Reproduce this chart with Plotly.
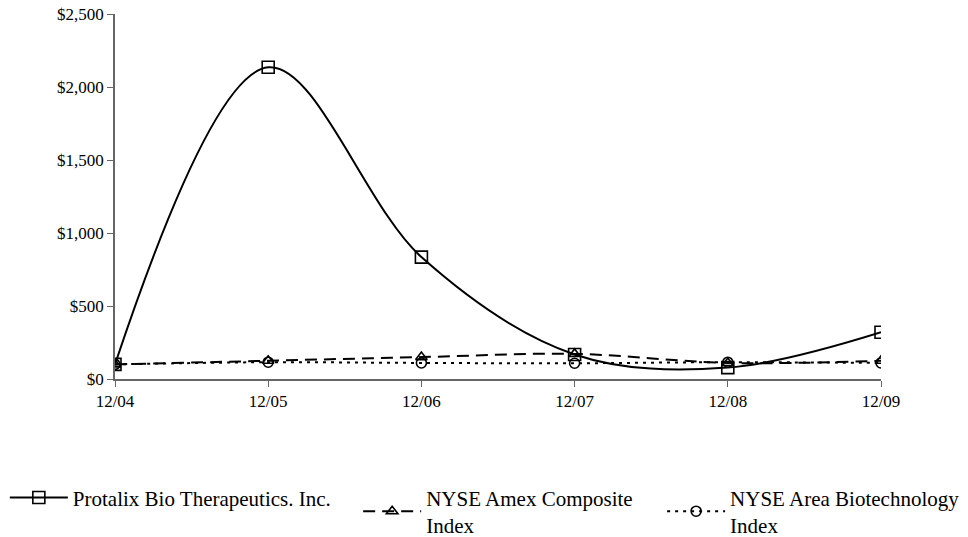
import plotly.graph_objects as go

categories = ["12/04", "12/05", "12/06", "12/07", "12/08", "12/09"]
protalix = [100, 2135, 835, 168, 78, 320]
amex = [100, 125, 150, 172, 110, 125]
biotech = [100, 115, 110, 108, 115, 110]

FONT = "'Liberation Serif', 'Times New Roman', Times, serif"
fig = go.Figure()

fig.add_trace(go.Scatter(
    x=categories, y=protalix, name="Protalix Bio Therapeutics. Inc.",
    mode="lines+markers", line=dict(color="black", width=2, shape="spline", smoothing=1.0),
    marker=dict(symbol="square-open", size=12, color="black", line=dict(width=1.6)),
    legend="legend"))
fig.add_trace(go.Scatter(
    x=categories, y=amex, name="NYSE Amex Composite<br>Index",
    mode="lines+markers", line=dict(color="black", width=2, dash="12px,7px", shape="spline", smoothing=1.0),
    marker=dict(symbol="triangle-up-open", size=10, color="black", line=dict(width=1.6)),
    legend="legend2"))
fig.add_trace(go.Scatter(
    x=categories, y=biotech, name="NYSE Area Biotechnology<br>Index",
    mode="lines+markers", line=dict(color="black", width=2, dash="3px,5px", shape="spline", smoothing=1.0),
    marker=dict(symbol="circle-open", size=10, color="black", line=dict(width=1.6)),
    legend="legend3"))

leg_common = dict(font=dict(family=FONT, size=21, color="black"), bgcolor="rgba(0,0,0,0)",
                  itemwidth=58, yref="container", yanchor="top", y=0.111,
                  xref="container", xanchor="left")

fig.update_layout(
    width=968, height=537,
    margin=dict(l=115, r=87, t=14, b=158, autoexpand=False),
    plot_bgcolor="white", paper_bgcolor="white",
    font=dict(family=FONT, size=17, color="black"),
    showlegend=True,
    legend=dict(**leg_common, x=0.005),
    legend2=dict(**leg_common, x=0.370),
    legend3=dict(**leg_common, x=0.684),
    xaxis=dict(type="category", range=[0, 5], showline=True, linecolor="#666", linewidth=1.5,
               ticks="outside", ticklen=6, tickcolor="#666", showgrid=False, zeroline=False,
               tickangle=0, automargin=False, ticklabeloverflow="allow",
               tickfont=dict(family=FONT, size=17, color="black")),
    yaxis=dict(range=[0, 2500], dtick=500, tickprefix="$", tickformat=",", showline=True,
               linecolor="#666", linewidth=1.5, ticks="outside", ticklen=6, tickcolor="#666",
               showgrid=False, zeroline=False, automargin=False, ticklabeloverflow="allow",
               tickfont=dict(family=FONT, size=17, color="black")),
)

fig.write_html("out.html", config={"displayModeBar": False},
               post_script="document.body.style.margin='0';")
